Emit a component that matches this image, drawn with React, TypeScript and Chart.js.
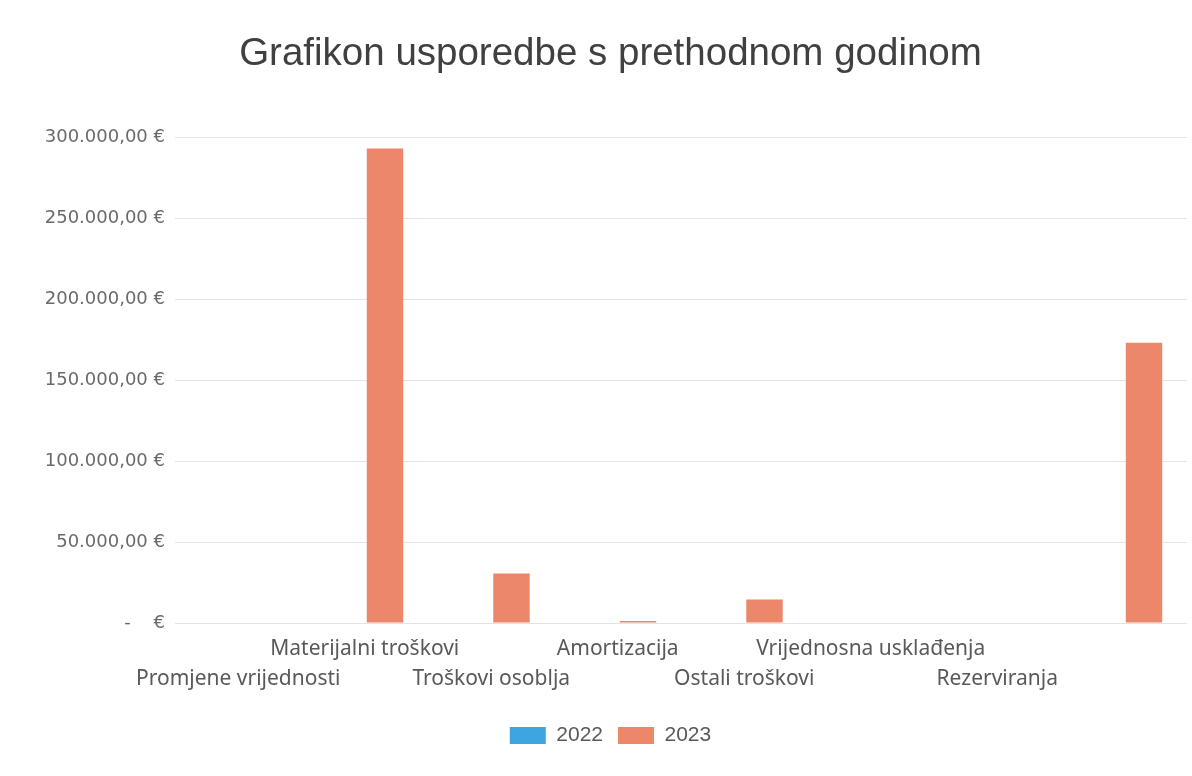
import React, { useEffect, useRef } from "react";
import { Chart, registerables } from "chart.js";

Chart.register(...registerables);

const categories = [
  "Promjene vrijednosti",
  "Materijalni troškovi",
  "Troškovi osoblja",
  "Amortizacija",
  "Ostali troškovi",
  "Vrijednosna usklađenja",
  "Rezerviranja",
  "",
];
const values2022 = [0, 0, 0, 0, 0, 0, 0, 0];
const values2023 = [0, 293000, 30500, 1200, 14500, 0, 0, 173000];
const yTicks = [0, 50000, 100000, 150000, 200000, 250000, 300000];

const fmt = (v: number) => {
  if (v === 0) return "-    €";
  return (
    Math.round(v)
      .toString()
      .replace(/\B(?=(\d{3})+(?!\d))/g, ".") + ",00 €"
  );
};

export default function App() {
  const ref = useRef<HTMLCanvasElement | null>(null);
  useEffect(() => {
    document.body.style.margin = "0";
    const ctx = ref.current!;
    const chart = new Chart(ctx, {
      type: "bar",
      data: {
        labels: categories,
        datasets: [
          {
            label: "2022",
            data: values2022,
            backgroundColor: "#3DA6E0",
            categoryPercentage: 0.64,
            barPercentage: 0.9,
          },
          {
            label: "2023",
            data: values2023,
            backgroundColor: "#EC8769",
            categoryPercentage: 0.64,
            barPercentage: 0.9,
          },
        ],
      },
      options: {
        animation: false,
        responsive: false,
        maintainAspectRatio: false,
        layout: { padding: { left: 34, right: 5, top: 0, bottom: 20 } },
        plugins: {
          title: {
            display: true,
            text: "Grafikon usporedbe s prethodnom godinom",
            color: "#404040",
            font: { family: "'Liberation Sans', Arial, sans-serif", size: 38.5, weight: "normal", lineHeight: 1.2 },
            padding: { top: 31, bottom: 60 },
          },
          legend: {
            position: "bottom",
            labels: {
              boxWidth: 36,
              boxHeight: 17,
              padding: 15,
              color: "#595959",
              font: { family: "'Liberation Sans', Arial, sans-serif", size: 21 },
            },
          },
          tooltip: { enabled: false },
        },
        scales: {
          x: {
            grid: { display: false },
            border: { display: false },
            afterFit: (s: any) => {
              s.height = 87;
            },
            ticks: {
              autoSkip: false,
              maxRotation: 0,
              minRotation: 0,
              padding: 3,
              color: "#595959",
              font: { family: "'Noto Sans', sans-serif", size: 21, lineHeight: 1.43 },
              callback: (_v: any, i: number) => {
                const l = categories[i];
                return i % 2 === 0 ? ["", l] : [l];
              },
            },
          },
          y: {
            min: 0,
            max: 300000,
            afterFit: (s: any) => {
              s.width = 141;
            },
            afterBuildTicks: (s: any) => {
              s.ticks = yTicks.map((v) => ({ value: v }));
            },
            grid: { color: "#e4e4e4", lineWidth: 1, drawTicks: false },
            border: { display: false },
            ticks: {
              padding: 10,
              color: "#6a6a6a",
              font: { family: "'DejaVu Sans', sans-serif", size: 18 },
              callback: (v: any) => fmt(Number(v)),
            },
          },
        },
      },
    });
    return () => chart.destroy();
  }, []);
  return (
    <div style={{ position: "fixed", left: 0, top: 0, width: 1192, height: 776, background: "#fff" }}>
      <canvas ref={ref} width={1192} height={776} style={{ width: 1192, height: 776 }} />
    </div>
  );
}
